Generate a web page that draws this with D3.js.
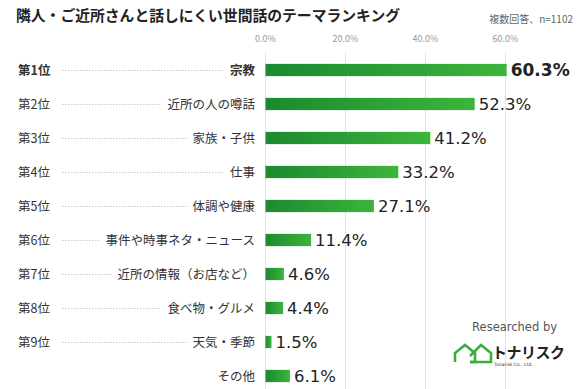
<!DOCTYPE html>
<html>
<head>
<meta charset="utf-8">
<script src="https://cdn.jsdelivr.net/npm/d3@7"></script>
<style>
  body { margin: 0; background: #fff; }
  svg { display: block; font-family: "Noto Sans CJK JP", sans-serif; }
</style>
</head>
<body>
<div id="chart"></div>
<script>
// data
let ranks = ["第1位","第2位","第3位","第4位","第5位","第6位","第7位","第8位","第9位",""];
let categories = ["宗教","近所の人の噂話","家族・子供","仕事","体調や健康","事件や時事ネタ・ニュース","近所の情報（お店など）","食べ物・グルメ","天気・季節","その他"];
let values = [60.3, 52.3, 41.2, 33.2, 27.1, 11.4, 4.6, 4.4, 1.5, 6.1];
let ticks = [0, 20, 40, 60];

let W = 580, H = 389;
let x0 = 265.5;

let svg = d3.select("#chart").append("svg")
    .attr("width", W).attr("height", H);

let defs = svg.append("defs");
let grad = defs.append("linearGradient")
    .attr("id", "bar-grad")
    .attr("x1", "0%").attr("y1", "0%")
    .attr("x2", "100%").attr("y2", "0%");
grad.append("stop").attr("offset", "0%").attr("stop-color", "#1b8a30");
grad.append("stop").attr("offset", "100%").attr("stop-color", "#3cb53b");

let x = d3.scaleLinear().domain([0, 60]).range([x0, x0 + 240]);
let y = d3.scaleBand().domain(d3.range(categories.length))
    .range([53, 393]).paddingInner(0.64).paddingOuter(0.32);

// title
svg.append("text")
    .attr("x", 16).attr("y", 21)
    .style("font-size", "14.8px").style("font-weight", "bold").attr("fill", "#222")
    .text("隣人・ご近所さんと話しにくい世間話のテーマランキング");
svg.append("text")
    .attr("x", 573).attr("y", 23)
    .attr("text-anchor", "end")
    .style("font-size", "10px").attr("fill", "#666")
    .text("複数回答、n=1102");

// grid + ticks
svg.append("g").selectAll("line").data(ticks).enter().append("line")
    .attr("x1", d => x(d)).attr("x2", d => x(d))
    .attr("y1", 52).attr("y2", H)
    .attr("stroke", "#e2e2e2").attr("stroke-width", 1);

svg.append("g").selectAll("text").data(ticks).enter().append("text")
    .attr("x", d => x(d)).attr("y", 42)
    .attr("text-anchor", "middle")
    .style("font-size", "9px").attr("fill", "#999")
    .text(d => d.toFixed(1) + "%");

// rows
let rows = svg.append("g").selectAll("g").data(values).enter().append("g");

rows.append("text")
    .attr("x", 18).attr("y", (d, i) => y(i) + y.bandwidth() / 2 + 4.5)
    .style("font-size", "12.5px")
    .style("font-weight", (d, i) => i === 0 ? "bold" : "normal")
    .attr("fill", "#333")
    .text((d, i) => ranks[i]);

let cats = rows.append("text")
    .attr("class", "cat")
    .attr("x", 255).attr("y", (d, i) => y(i) + y.bandwidth() / 2 + 4.5)
    .attr("text-anchor", "end")
    .style("font-size", "12.5px")
    .style("font-weight", (d, i) => i === 0 ? "bold" : "normal")
    .attr("fill", "#333")
    .text((d, i) => categories[i]);

// dotted leaders
cats.each(function(d, i) {
  if (!ranks[i]) return;
  let w = this.getComputedTextLength();
  svg.append("line")
    .attr("x1", 62).attr("x2", 255 - w - 6)
    .attr("y1", y(i) + y.bandwidth() / 2 + 0.5)
    .attr("y2", y(i) + y.bandwidth() / 2 + 0.5)
    .attr("stroke", "#bbb").attr("stroke-width", 0.8)
    .attr("stroke-dasharray", "1.5,1.5");
});

rows.append("rect")
    .attr("x", x(0))
    .attr("y", (d, i) => y(i))
    .attr("width", d => x(d) - x(0))
    .attr("height", y.bandwidth())
    .attr("fill", "url(#bar-grad)");

rows.append("text")
    .attr("x", d => x(d) + 4)
    .attr("y", (d, i) => y(i) + y.bandwidth() / 2 + 6)
    .style("font-family", "'DejaVu Sans', sans-serif")
    .style("font-size", (d, i) => i === 0 ? "17px" : "16.5px")
    .style("font-weight", (d, i) => i === 0 ? "bold" : "normal")
    .attr("fill", "#222")
    .text(d => d.toFixed(1) + "%");

// logo
let logo = svg.append("g");
logo.append("text")
    .attr("x", 557).attr("y", 331)
    .attr("text-anchor", "end")
    .style("font-family", "'DejaVu Sans', sans-serif")
    .style("font-size", "11.5px").attr("fill", "#555")
    .text("Researched by");

let houses = logo.append("g")
    .attr("fill", "none").attr("stroke", "#3aad3e")
    .attr("stroke-width", 2.6).attr("stroke-linejoin", "miter");
houses.append("path").attr("d", "M455,362 V353 L465,345 L475,353 V362 H470");
houses.append("path").attr("d", "M470,356 L481,345 L491,353 V362 H470");

logo.append("text")
    .attr("x", 492).attr("y", 358)
    .style("font-size", "15px").style("font-weight", "bold")
    .attr("fill", "#222").attr("letter-spacing", "-0.5")
    .text("トナリスク");
logo.append("text")
    .attr("x", 494).attr("y", 366)
    .style("font-family", "'DejaVu Sans', sans-serif")
    .style("font-size", "4.5px").attr("fill", "#333")
    .text("Tonarisk Co., Ltd.");
</script>
</body>
</html>
